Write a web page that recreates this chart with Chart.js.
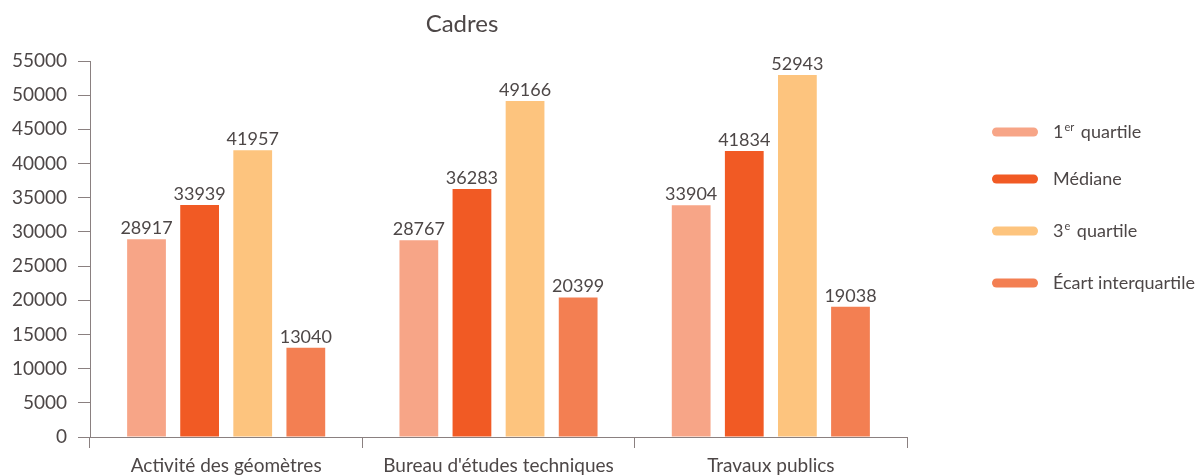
<!DOCTYPE html>
<html><head><meta charset="utf-8">
<script src="https://cdn.jsdelivr.net/npm/chart.js@4"></script>
<style>html,body{margin:0;padding:0;background:#fff}#wrap{width:1197px;height:475px;position:relative}</style>
</head><body><div id="wrap"><canvas id="c" width="1197" height="475"></canvas></div>
<script>
const categories = ["Activité des géomètres", "Bureau d'études techniques", "Travaux publics"];
const q1 = [28917, 28767, 33904];
const mediane = [33939, 36283, 41834];
const q3 = [41957, 49166, 52943];
const ecart = [13040, 20399, 19038];
const seriesNames = [["1", "er", " quartile"], ["Médiane", "", ""], ["3", "e", " quartile"], ["Écart interquartile", "", ""]];
const yTicks = [0,5000,10000,15000,20000,25000,30000,35000,40000,45000,50000,55000];
const title = "Cadres";

const colors = ["#F7A587", "#F15A24", "#FDC47E", "#F37F52"];
const textColor = "#4d4747";
const FONT = "Lato, 'Open Sans', sans-serif";

const labelsPlugin = {
  id: 'extras',
  afterDatasetsDraw(chart) {
    const ctx = chart.ctx;
    ctx.save();
    ctx.fillStyle = textColor;
    ctx.font = "18px " + FONT;
    ctx.textAlign = "center";
    ctx.textBaseline = "bottom";
    chart.data.datasets.forEach((ds, i) => {
      const meta = chart.getDatasetMeta(i);
      meta.data.forEach((bar, j) => {
        ctx.fillText(String(ds.data[j]), bar.x, bar.y - 2);
      });
    });
    // title
    ctx.font = "24px " + FONT;
    ctx.textBaseline = "middle";
    ctx.fillText(title, 462, 24);
    // legend
    const ys = [132, 179, 231, 283];
    seriesNames.forEach((n, i) => {
      const y = ys[i];
      ctx.fillStyle = colors[i];
      ctx.beginPath();
      ctx.roundRect(992, y - 4.5, 46, 9, 4.5);
      ctx.fill();
      ctx.fillStyle = textColor;
      ctx.textAlign = "left";
      ctx.textBaseline = "middle";
      ctx.font = "18px " + FONT;
      let x = 1053;
      ctx.fillText(n[0], x, y);
      x += ctx.measureText(n[0]).width + 1;
      if (n[1]) {
        ctx.font = "11px " + FONT;
        ctx.fillText(n[1], x, y - 5);
        x += ctx.measureText(n[1]).width + 2;
        ctx.font = "18px " + FONT;
        ctx.fillText(n[2], x, y);
      }
    });
    ctx.restore();
  }
};

new Chart(document.getElementById('c'), {
  type: 'bar',
  data: {
    labels: categories,
    datasets: [q1, mediane, q3, ecart].map((d, i) => ({
      label: seriesNames[i].join(''),
      data: d,
      backgroundColor: colors[i],
      barPercentage: 0.73,
      categoryPercentage: 0.78
    }))
  },
  options: {
    responsive: false,
    animation: false,
    layout: { padding: { top: 61, right: 290, bottom: 0, left: 0 } },
    plugins: { legend: { display: false }, tooltip: { enabled: false }, title: { display: false } },
    scales: {
      x: {
        grid: { display: true, drawOnChartArea: false, offset: true, tickLength: 11, color: "#8a8080" },
        border: { display: true, color: "#8a8080" },
        ticks: { color: textColor, font: { family: FONT, size: 19 }, padding: 6 },
        afterFit(s) { s.height = 38; }
      },
      y: {
        min: 0, max: 55000,
        afterBuildTicks(s) { s.ticks = yTicks.map(v => ({ value: v })); },
        grid: { display: true, drawOnChartArea: false, tickLength: 12, color: "#8a8080" },
        border: { display: true, color: "#8a8080" },
        ticks: { color: textColor, font: { family: FONT, size: 19 }, padding: 11, callback: v => String(v) },
        afterFit(s) { s.width = 90; }
      }
    }
  },
  plugins: [labelsPlugin]
});
</script></body></html>
